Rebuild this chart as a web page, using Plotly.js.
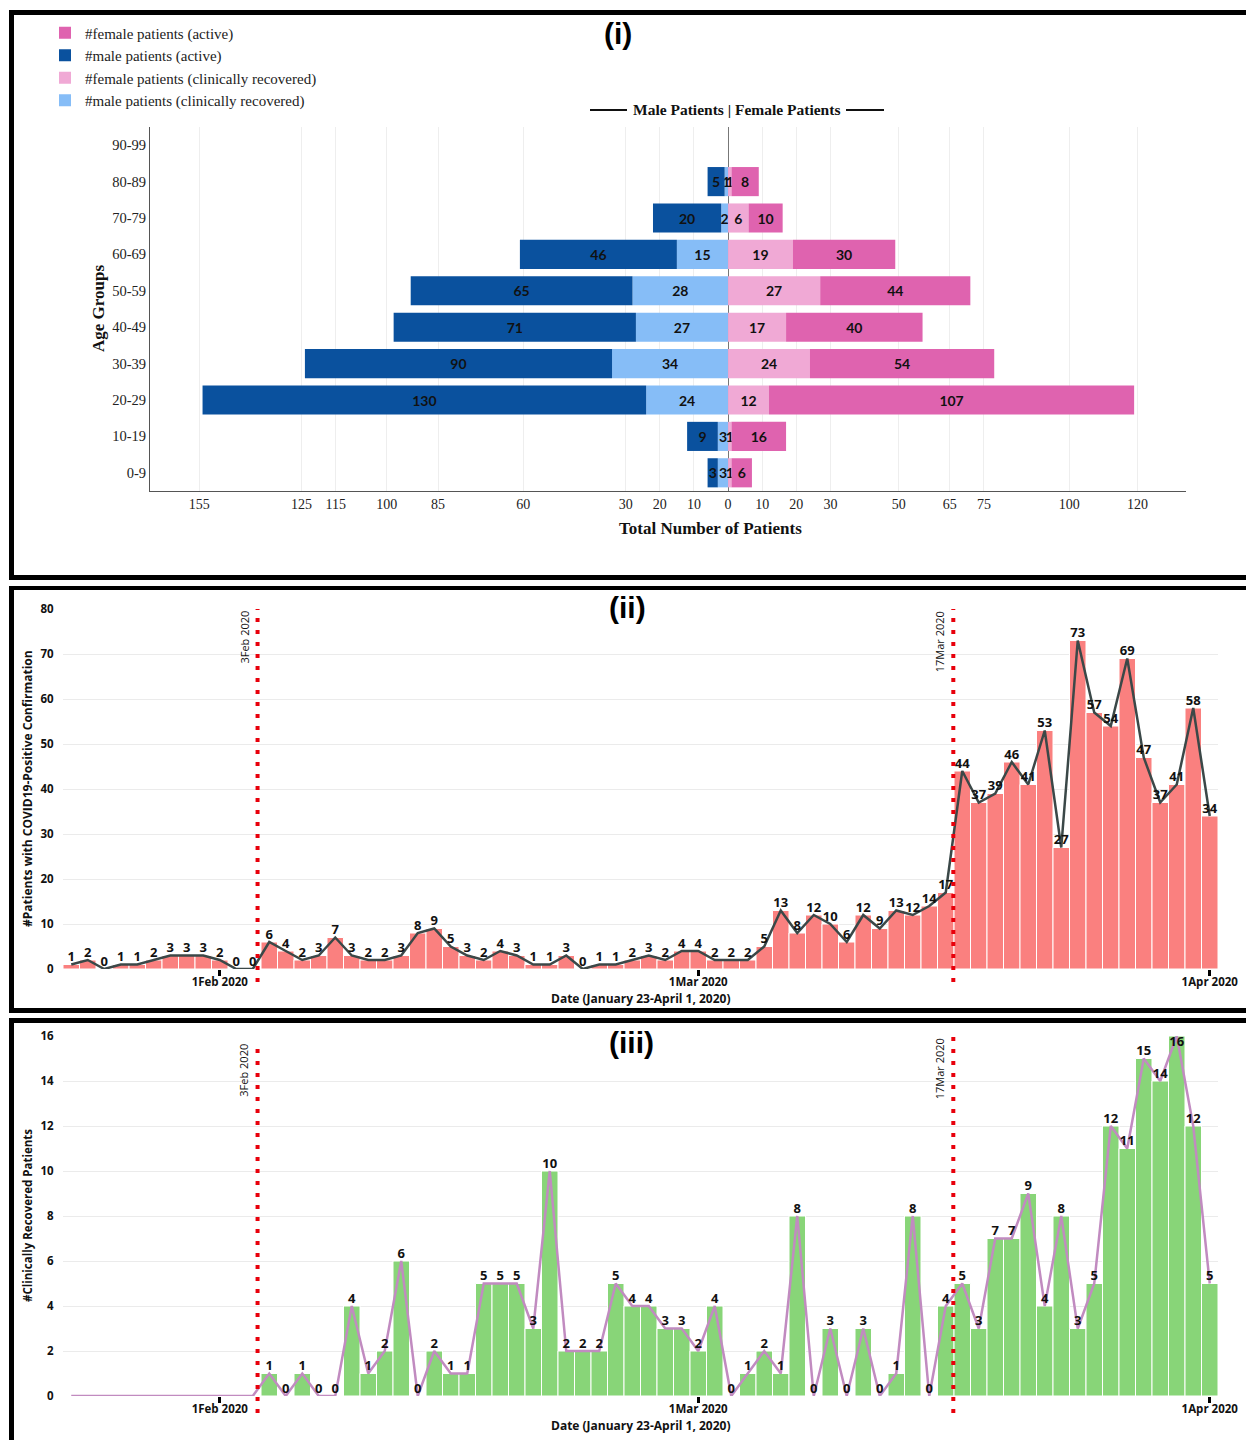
<!DOCTYPE html>
<html>
<head>
<meta charset="utf-8">
<script src="https://cdn.plot.ly/plotly-3.0.1.min.js"></script>
<style>
  body { margin: 0; background: #fff; }
  .panel { position: absolute; left: 9px; width: 1232px; border-left: 5px solid #000; }
  #p1 { top: 10px; height: 560px; border-top: 5px solid #000; border-bottom: 5px solid #000; }
  #p2 { top: 586px; height: 418px; border-top: 4px solid #000; border-bottom: 5px solid #000; }
  #p3 { top: 1018px; height: 417px; border-top: 5px solid #000; }
</style>
</head>
<body>
<div id="p1" class="panel"></div>
<div id="p2" class="panel"></div>
<div id="p3" class="panel"></div>
<script>
// ---- data: panel (i) age pyramid
var ageGroups = ['0-9', '10-19', '20-29', '30-39', '40-49', '50-59', '60-69', '70-79', '80-89', '90-99']
var maleActive      = [3, 9, 130, 90, 71, 65, 46, 20, 5, 0]
var maleRecovered   = [3, 3, 24, 34, 27, 28, 15, 2, 1, 0]
var femaleRecovered = [1, 1, 12, 24, 17, 27, 19, 6, 1, 0]
var femaleActive    = [6, 16, 107, 54, 40, 44, 30, 10, 8, 0]
var pyramidTicks = [-155, -125, -115, -100, -85, -60, -30, -20, -10, 0, 10, 20, 30, 50, 65, 75, 100, 120]

// ---- data: panels (ii) and (iii), one value per day, Jan 23 .. Apr 1 2020
var startDate = '2020-01-23'
var confirmedDaily = [1, 2, 0, 1, 1, 2, 3, 3, 3, 2, 0, 0,
  6, 4, 2, 3, 7, 3, 2, 2, 3, 8,
  9, 5, 3, 2, 4, 3, 1, 1, 3, 0,
  1, 1, 2, 3, 2, 4, 4, 2, 2, 2,
  5, 13, 8, 12, 10, 6, 12, 9, 13, 12,
  14, 17, 44, 37, 39, 46, 41, 53, 27, 73,
  57, 54, 69, 47, 37, 41, 58, 34]
var recoveredDaily = [0, 0, 0, 0, 0, 0, 0, 0, 0, 0, 0, 0,
  1, 0, 1, 0, 0, 4, 1, 2, 6, 0,
  2, 1, 1, 5, 5, 5, 3, 10, 2, 2,
  2, 5, 4, 4, 3, 3, 2, 4, 0, 1,
  2, 1, 8, 0, 3, 0, 3, 0, 1, 8,
  0, 4, 5, 3, 7, 7, 9, 4, 8, 3,
  5, 12, 11, 15, 14, 16, 12, 5]
var firstRecoveredLabel = 12   // no labels before Feb 4 in (iii)
var dateTicks = ['2020-02-01', '2020-03-01', '2020-04-01']
var dateTickText = ['1Feb 2020', '1Mar 2020', '1Apr 2020']
var markers = [
  {date: '2020-02-03 07:00', label: '3Feb 2020'},
  {date: '2020-03-16 11:00', label: '17Mar 2020'}
]

function dayList(start, n) {
  var out = []
  var d0 = new Date(start + 'T00:00:00Z')
  for (var i = 0; i < n; i++) {
    var d = new Date(d0.getTime() + i * 86400000)
    out.push(d.toISOString().slice(0, 10))
  }
  return out
}
var days = dayList(startDate, confirmedDaily.length)

// pixel -> paper helpers
var W = 1232
function paper(m, h) {
  return {
    x: function(px) { return (px - m.l) / (W - m.l - m.r) },
    y: function(py) { return (h - m.b - py) / (h - m.t - m.b) }
  }
}
function label(v) { return v > 0 ? String(v) : '' }
function note(x, y, text, font, extra) {
  var a = {xref: 'paper', yref: 'paper', x: x, y: y, text: text, showarrow: false,
    xanchor: 'center', yanchor: 'middle', font: font}
  for (var k in extra || {}) a[k] = extra[k]
  return a
}

var serif = 'Liberation Serif, Times New Roman, serif'
var sans = 'Open Sans, Noto Sans, sans-serif'
var config = {displayModeBar: false, staticPlot: true}

// ================= panel (i)
var m1 = {l: 136, r: 60, t: 112, b: 84, autoexpand: false}, H1 = 560
var p1 = paper(m1, H1)
var barText = {family: 'Lato, sans-serif', size: 14, color: '#111', weight: 'bold'}

function pyramidBar(name, vals, sign, color, rank) {
  return {
    type: 'bar', orientation: 'h', name: name,
    y: ageGroups, x: vals.map(function(v) { return sign * v }),
    text: vals.map(label), textposition: 'inside', insidetextanchor: 'middle',
    textangle: 0, textfont: barText, constraintext: 'none',
    marker: {color: color, line: {width: 0}},
    legendrank: rank, hoverinfo: 'skip'
  }
}

var traces1 = [
  pyramidBar('#male patients (clinically recovered)', maleRecovered, -1, '#86BDF7', 4),
  pyramidBar('#male patients (active)', maleActive, -1, '#0A519E', 2),
  pyramidBar('#female patients (clinically recovered)', femaleRecovered, 1, '#F0A9D5', 3),
  pyramidBar('#female patients (active)', femaleActive, 1, '#DF63AF', 1)
]

var layout1 = {
  width: W, height: H1, margin: m1,
  paper_bgcolor: '#fff', plot_bgcolor: '#fff',
  barmode: 'relative', bargap: 0.2,
  uniformtext: {mode: 'show', minsize: 14},
  showlegend: true,
  legend: {x: p1.x(31), y: p1.y(1.5), xanchor: 'left', yanchor: 'top',
    font: {family: serif, size: 15, color: '#222'}, bgcolor: 'rgba(0,0,0,0)', tracegroupgap: 0},
  xaxis: {
    range: [-169.4, 134.2], tickvals: pyramidTicks,
    ticktext: pyramidTicks.map(function(v) { return String(Math.abs(v)) }),
    showgrid: true, gridcolor: '#eeeeee', zeroline: true, zerolinecolor: '#777', zerolinewidth: 1,
    showline: true, linecolor: '#555', linewidth: 1, ticks: '',
    tickfont: {family: serif, size: 14, color: '#222'}
  },
  yaxis: {
    showgrid: false, showline: true, linecolor: '#555', linewidth: 1, ticks: '',
    tickfont: {family: serif, size: 14.5, color: '#222'}
  },
  annotations: [
    note(p1.x(604), p1.y(18), '<b>(i)</b>', {family: 'Liberation Sans, Arial, sans-serif', size: 30, color: '#000'}),
    note(p1.x(722), p1.y(95), '<b>Male Patients | Female Patients</b>', {family: serif, size: 15.5, color: '#111'}),
    note(p1.x(696), p1.y(513), '<b>Total Number of Patients</b>', {family: serif, size: 17, color: '#111'}),
    note(p1.x(84), p1.y(294), '<b>Age Groups</b>', {family: serif, size: 17, color: '#111'}, {textangle: -90})
  ],
  shapes: [
    {type: 'line', xref: 'paper', yref: 'paper', x0: p1.x(576), x1: p1.x(613), y0: p1.y(95), y1: p1.y(95),
      line: {color: '#111', width: 2}},
    {type: 'line', xref: 'paper', yref: 'paper', x0: p1.x(832), x1: p1.x(870), y0: p1.y(95), y1: p1.y(95),
      line: {color: '#111', width: 2}}
  ]
}
Plotly.newPlot('p1', traces1, layout1, config)

// ================= panels (ii) and (iii)
function dailyPanel(div, opts) {
  var m = opts.margin, H = opts.height
  var pp = paper(m, H)
  var txt = opts.values.map(function(v, i) { return i < opts.labelFrom ? '' : String(v) })
  // a label at the very top of the axis goes under its point so it stays in the panel
  var txtPos = opts.values.map(function(v) { return v >= opts.yRange[1] ? 'bottom center' : 'top center' })
  var traces = [
    {type: 'bar', x: days, y: opts.values, marker: {color: opts.barColor, line: {color: '#fff', width: 1}},
      hoverinfo: 'skip', showlegend: false},
    {type: 'scatter', mode: 'lines+text', x: days, y: opts.values, text: txt, textposition: txtPos,
      textfont: {family: sans, size: 13, color: '#111', weight: 'bold'}, cliponaxis: false,
      line: {color: opts.lineColor, width: 2.5}, hoverinfo: 'skip', showlegend: false}
  ]
  var shapes = [], notes = []
  markers.forEach(function(mk, k) {
    shapes.push({type: 'line', xref: 'x', yref: 'paper', x0: mk.date, x1: mk.date,
      y0: opts.lineBottom, y1: opts.lineTop[k], line: {color: '#e8000b', width: 4, dash: '4px,8px'}})
    notes.push({xref: 'x', yref: 'paper', x: mk.date, y: opts.lineTop[k], xanchor: 'right', yanchor: 'top',
      xshift: -4, textangle: -90, text: mk.label, showarrow: false,
      font: {family: sans, size: 11, color: '#111'}})
  })
  notes.push(note(pp.x(opts.title[1]), pp.y(opts.title[2]), '<b>' + opts.title[0] + '</b>',
    {family: 'Liberation Sans, Arial, sans-serif', size: 30, color: '#000'}))
  notes.push(note(pp.x(627), pp.y(opts.xTitleY), '<b>Date (January 23-April 1, 2020)</b>',
    {family: sans, size: 12, color: '#111'}))
  notes.push(note(pp.x(13), 0.5, '<b>' + opts.yTitle + '</b>',
    {family: sans, size: opts.yTitleSize, color: '#111'}, {textangle: -90}))

  var layout = {
    width: W, height: H, margin: m,
    paper_bgcolor: '#fff', plot_bgcolor: '#fff',
    bargap: 0,
    xaxis: {type: 'date', range: ['2020-01-22 12:00', '2020-04-01 12:00'],
      tickvals: dateTicks, ticktext: dateTickText, ticks: 'outside', ticklen: 6, tickwidth: 3, tickcolor: '#000',
      ticklabelstandoff: -4,
      showgrid: false, zeroline: false, showline: false,
      tickfont: {family: sans, size: 11.5, color: '#111', weight: 'bold'}},
    yaxis: {range: opts.yRange, dtick: opts.dtick, gridcolor: '#ebebeb', zeroline: false, showline: false,
      ticks: 'outside', ticklen: 6, tickcolor: 'rgba(0,0,0,0)',
      tickfont: {family: sans, size: 11.5, color: '#111', weight: 'bold'}},
    shapes: shapes, annotations: notes
  }
  Plotly.newPlot(div, traces, layout, config)
}

dailyPanel('p2', {
  values: confirmedDaily, labelFrom: 0, barColor: '#FA807F', lineColor: '#3B4848',
  margin: {l: 49, r: 28, t: 19, b: 39, autoexpand: false}, height: 418, yRange: [0, 80], dtick: 10,
  lineBottom: -0.036, lineTop: [1, 1],
  title: ['(ii)', 613, 17], xTitleY: 408,
  yTitle: '#Patients with COVID19-Positive Confirmation', yTitleSize: 12
})

dailyPanel('p3', {
  values: recoveredDaily, labelFrom: firstRecoveredLabel, barColor: '#88D578', lineColor: '#C18BC0',
  margin: {l: 49, r: 28, t: 13, b: 44, autoexpand: false}, height: 417, yRange: [0, 16], dtick: 2,
  lineBottom: -0.047, lineTop: [0.983, 1],
  title: ['(iii)', 617, 19], xTitleY: 402,
  yTitle: '#Clinically Recovered Patients', yTitleSize: 11.5
})
</script>
</body>
</html>
